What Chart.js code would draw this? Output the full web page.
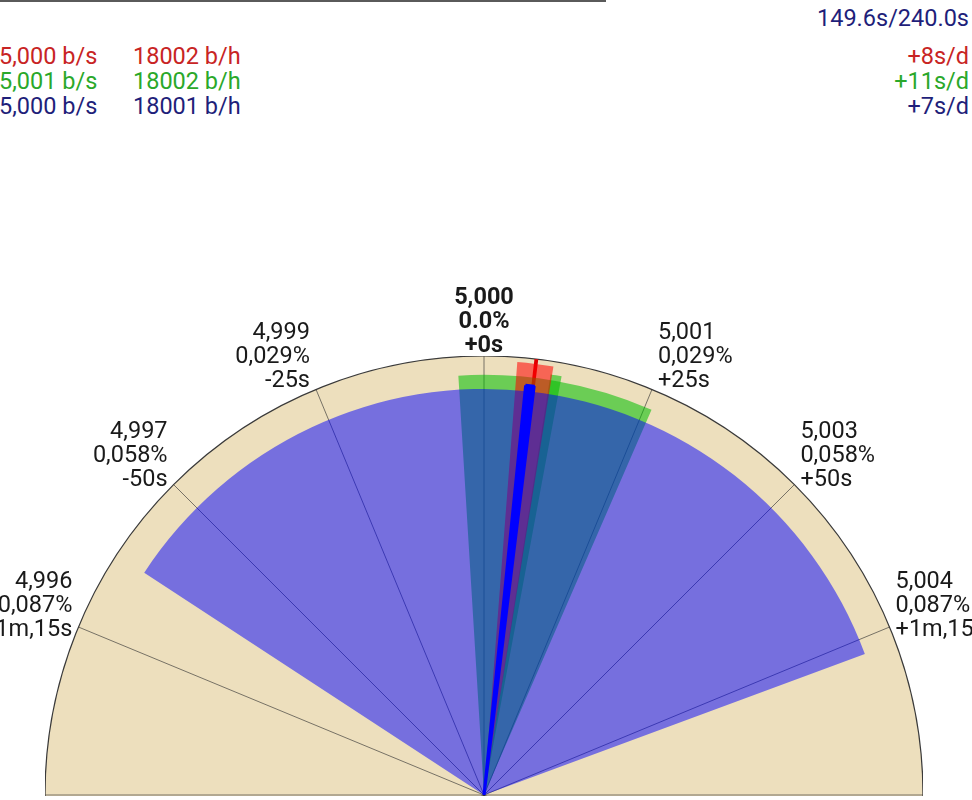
<!DOCTYPE html>
<html>
<head>
<meta charset="utf-8">
<script src="https://cdn.jsdelivr.net/npm/chart.js@4/dist/chart.umd.min.js"></script>
<style>
html,body{margin:0;padding:0;background:#fff;}
body{width:972px;height:800px;overflow:hidden;position:relative;font-family:Roboto,"Noto Sans",sans-serif;}
#progress{position:absolute;left:0;top:0;height:2px;background:#5a5a5a;}
.t{position:absolute;font-size:23.5px;line-height:25px;white-space:nowrap;}
#wrap{position:absolute;left:45px;top:356px;width:878px;height:440px;overflow:hidden;}
#wrap canvas{position:absolute;left:0;top:0;}
.lbl{position:absolute;font-size:23.5px;line-height:24px;color:#1a1a1a;white-space:nowrap;}
</style>
</head>
<body>
<div id="progress"></div>
<div id="header"></div>
<div id="wrap"><canvas id="gauge" width="878" height="878"></canvas></div>
<div id="labels"></div>
<script>
// ---- data ----
const elapsedSeconds = 149.6;
const totalSeconds = 240.0;
const seriesBeatsPerSecond = ['5,000', '5,001', '5,000'];
const seriesBeatsPerHour = ['18002', '18002', '18001'];
const seriesDailyRate = ['+8', '+11', '+7'];

const tickValues  = ['4,996', '4,997', '4,999', '5,000', '5,001', '5,003', '5,004'];
const tickPercents = ['0,087%', '0,058%', '0,029%', '0.0%', '0,029%', '0,058%', '0,087%'];
const tickOffsets = ['-1m,15s', '-50s', '-25s', '+0s', '+25s', '+50s', '+1m,15s'];

// angular spreads (degrees from the vertical) and heights (0..100 of gauge radius)
const blueSpread  = [-56.8, 69.7];
const greenSpread = [-3.5, 23.5];
const greenPeak   = [9.0, 10.5];
const redSpread   = [4.4, 9.2];
const blueNeedle  = [5.8, 7.0];
const redNeedle   = [6.6, 7.1];
const blueHeight = 92.5;
const greenHeight = 95.7;
const greenPeakHeight = 97.0;
const redHeight = 98.9;
const blueNeedleHeight = 93.8;
const redNeedleHeight = 100;

// 16 angle positions at 22.5 deg (gauge ticks at indices 1..7)
const anglePositions = Array.from({length: 16}, (_, i) => (i >= 1 && i <= 7) ? tickValues[i - 1] : '');

// ---- header ----
document.getElementById('progress').style.width = (972 * elapsedSeconds / totalSeconds) + 'px';
const header = document.getElementById('header');
const rowColors = ['#c82424', '#2aa82a', '#1f1f7a'];
function addText(txt, css) {
  const d = document.createElement('div');
  d.className = 't';
  d.textContent = txt;
  Object.assign(d.style, css);
  header.appendChild(d);
  return d;
}
addText(elapsedSeconds.toFixed(1) + 's/' + totalSeconds.toFixed(1) + 's', {right: '3px', top: '6px', color: '#1f1f7a'});
seriesBeatsPerSecond.forEach((v, i) => {
  const top = (44 + i * 25) + 'px';
  addText(v + ' b/s', {left: '-1px', top, color: rowColors[i]});
  addText(seriesBeatsPerHour[i] + ' b/h', {left: '133px', top, color: rowColors[i]});
  addText(seriesDailyRate[i] + 's/d', {right: '3px', top, color: rowColors[i]});
});

// ---- gauge ----
function layer(span, height, color, border) {
  return {
    data: [0, height],
    angle: [span[0] + 90, span[1] - span[0]],
    backgroundColor: ['rgba(0,0,0,0)', color],
    borderColor: ['rgba(0,0,0,0)', border ? border.color : 'rgba(0,0,0,0)'],
    borderWidth: [0, border ? border.width : 0]
  };
}

const chart = new Chart(document.getElementById('gauge'), {
  type: 'polarArea',
  data: {
    labels: anglePositions,
    datasets: [
      layer(blueNeedle, blueNeedleHeight, '#0000ff', {color: '#0000ff', width: 3}),
      layer(blueSpread, blueHeight, 'rgba(0,0,255,0.5)'),
      layer(redSpread, redHeight, 'rgba(255,0,0,0.55)'),
      layer(greenPeak, greenPeakHeight, 'rgba(0,190,0,0.55)'),
      layer(greenSpread, greenHeight, 'rgba(0,190,0,0.55)'),
      layer(redNeedle, redNeedleHeight, '#e00000')
    ]
  },
  options: {
    responsive: false,
    animation: false,
    events: [],
    layout: {padding: 0},
    plugins: {legend: {display: false}, tooltip: {enabled: false}},
    scales: {
      r: {
        min: 0,
        max: 100,
        startAngle: -90,
        backgroundColor: 'rgb(237,223,189)',
        ticks: {display: false, stepSize: 100},
        pointLabels: {display: false},
        angleLines: {display: true, color: 'rgba(50,50,50,0.8)', lineWidth: 0.8},
        grid: {
          circular: true,
          lineWidth: 1.2,
          color: (ctx) => (ctx.tick && ctx.tick.value === 100) ? '#3a3a3a' : 'rgba(0,0,0,0)'
        }
      }
    }
  }
});

// ---- tick labels placed at the rim through the scale ----
(function placeLabels() {
  const s = chart.scales.r;
  const wrap = document.getElementById('wrap');
  const ox = wrap.offsetLeft, oy = wrap.offsetTop;
  const holder = document.getElementById('labels');
  tickValues.forEach((v, i) => {
    const idx = i + 1;
    const p = s.getPointPosition(idx, s.drawingArea);
    const px = ox + p.x, py = oy + p.y;
    const deg = idx * 22.5 - 90;
    const lastCenter = py - 12 + 13 * Math.pow(Math.abs(deg) / 67.5, 2);
    const d = document.createElement('div');
    d.className = 'lbl';
    [v, tickPercents[i], tickOffsets[i]].forEach(line => {
      const l = document.createElement('div');
      l.textContent = line;
      d.appendChild(l);
    });
    d.style.top = (lastCenter - 60) + 'px';
    if (deg < 0) {
      d.style.left = (px - 6) + 'px';
      d.style.transform = 'translateX(-100%)';
      d.style.textAlign = 'right';
    } else if (deg > 0) {
      d.style.left = (px + 6) + 'px';
      d.style.textAlign = 'left';
    } else {
      d.style.left = px + 'px';
      d.style.transform = 'translateX(-50%)';
      d.style.textAlign = 'center';
      d.style.fontWeight = 'bold';
    }
    holder.appendChild(d);
  });
})();
</script>
</body>
</html>
